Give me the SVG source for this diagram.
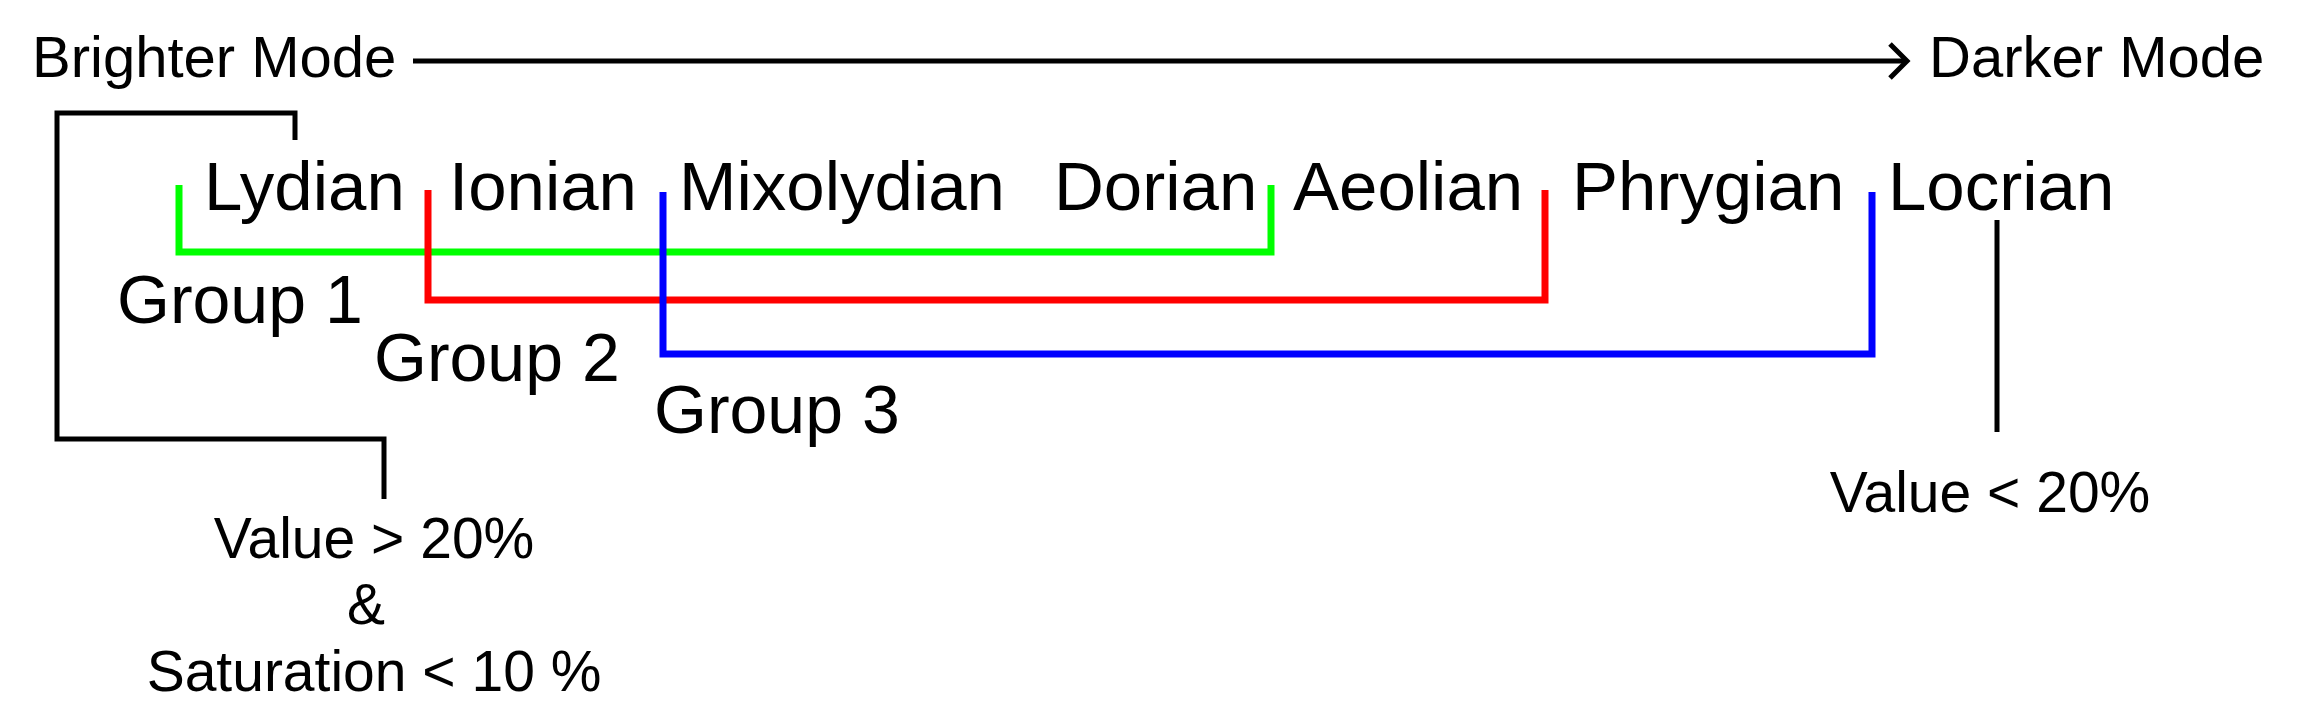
<svg xmlns="http://www.w3.org/2000/svg" width="2298" height="727" viewBox="0 0 2298 727">
<style>
  text { font-family: "Liberation Sans", Arial, sans-serif; fill: #000; }
  .mode { font-size: 69px; }
  .grp { font-size: 68px; }
  .top { font-size: 58px; }
  .cond { font-size: 57px; text-anchor: middle; }
  .blk { fill: none; stroke: #000; stroke-width: 5; }
  .g { fill: none; stroke: #00ff00; stroke-width: 7; }
  .r { fill: none; stroke: #ff0000; stroke-width: 7; }
  .b { fill: none; stroke: #0000ff; stroke-width: 7; }
</style>
<rect width="2298" height="727" fill="#fff"/>
<g id="connectors">
  <path class="blk" d="M413 61 H1906"/>
  <polyline class="blk" points="1890,44 1907,61 1890,78"/>
  <path class="blk" d="M295 140 V113 H57 V439 H384 V499"/>
  <path class="blk" d="M1997 220 V432"/>
  <path class="g" d="M179 185 V252 H1271 V185"/>
  <path class="r" d="M428 190 V300 H1545 V190"/>
  <path class="b" d="M663 192 V354 H1872 V192"/>
</g>
<g id="brighter"><text class="top" x="32" y="77">Brighter Mode</text></g>
<g id="darker"><text class="top" x="1929" y="77">Darker Mode</text></g>
<g id="lydian"><text class="mode" x="204" y="210">Lydian</text></g>
<g id="ionian"><text class="mode" x="449" y="210">Ionian</text></g>
<g id="mixolydian"><text class="mode" x="679" y="210">Mixolydian</text></g>
<g id="dorian"><text class="mode" x="1054" y="210">Dorian</text></g>
<g id="aeolian"><text class="mode" x="1293" y="210">Aeolian</text></g>
<g id="phrygian"><text class="mode" x="1572" y="210">Phrygian</text></g>
<g id="locrian"><text class="mode" x="1888" y="210">Locrian</text></g>
<g id="group1"><text class="grp" x="117" y="323">Group 1</text></g>
<g id="group2"><text class="grp" x="374" y="381">Group 2</text></g>
<g id="group3"><text class="grp" x="654" y="433">Group 3</text></g>
<g id="bright-cond">
  <text class="cond" x="374" y="558">Value &gt; 20%</text>
  <text class="cond" x="366" y="624">&amp;</text>
  <text class="cond" x="374" y="691">Saturation &lt; 10 %</text>
</g>
<g id="dark-cond"><text class="cond" x="1990" y="512">Value &lt; 20%</text></g>
</svg>
